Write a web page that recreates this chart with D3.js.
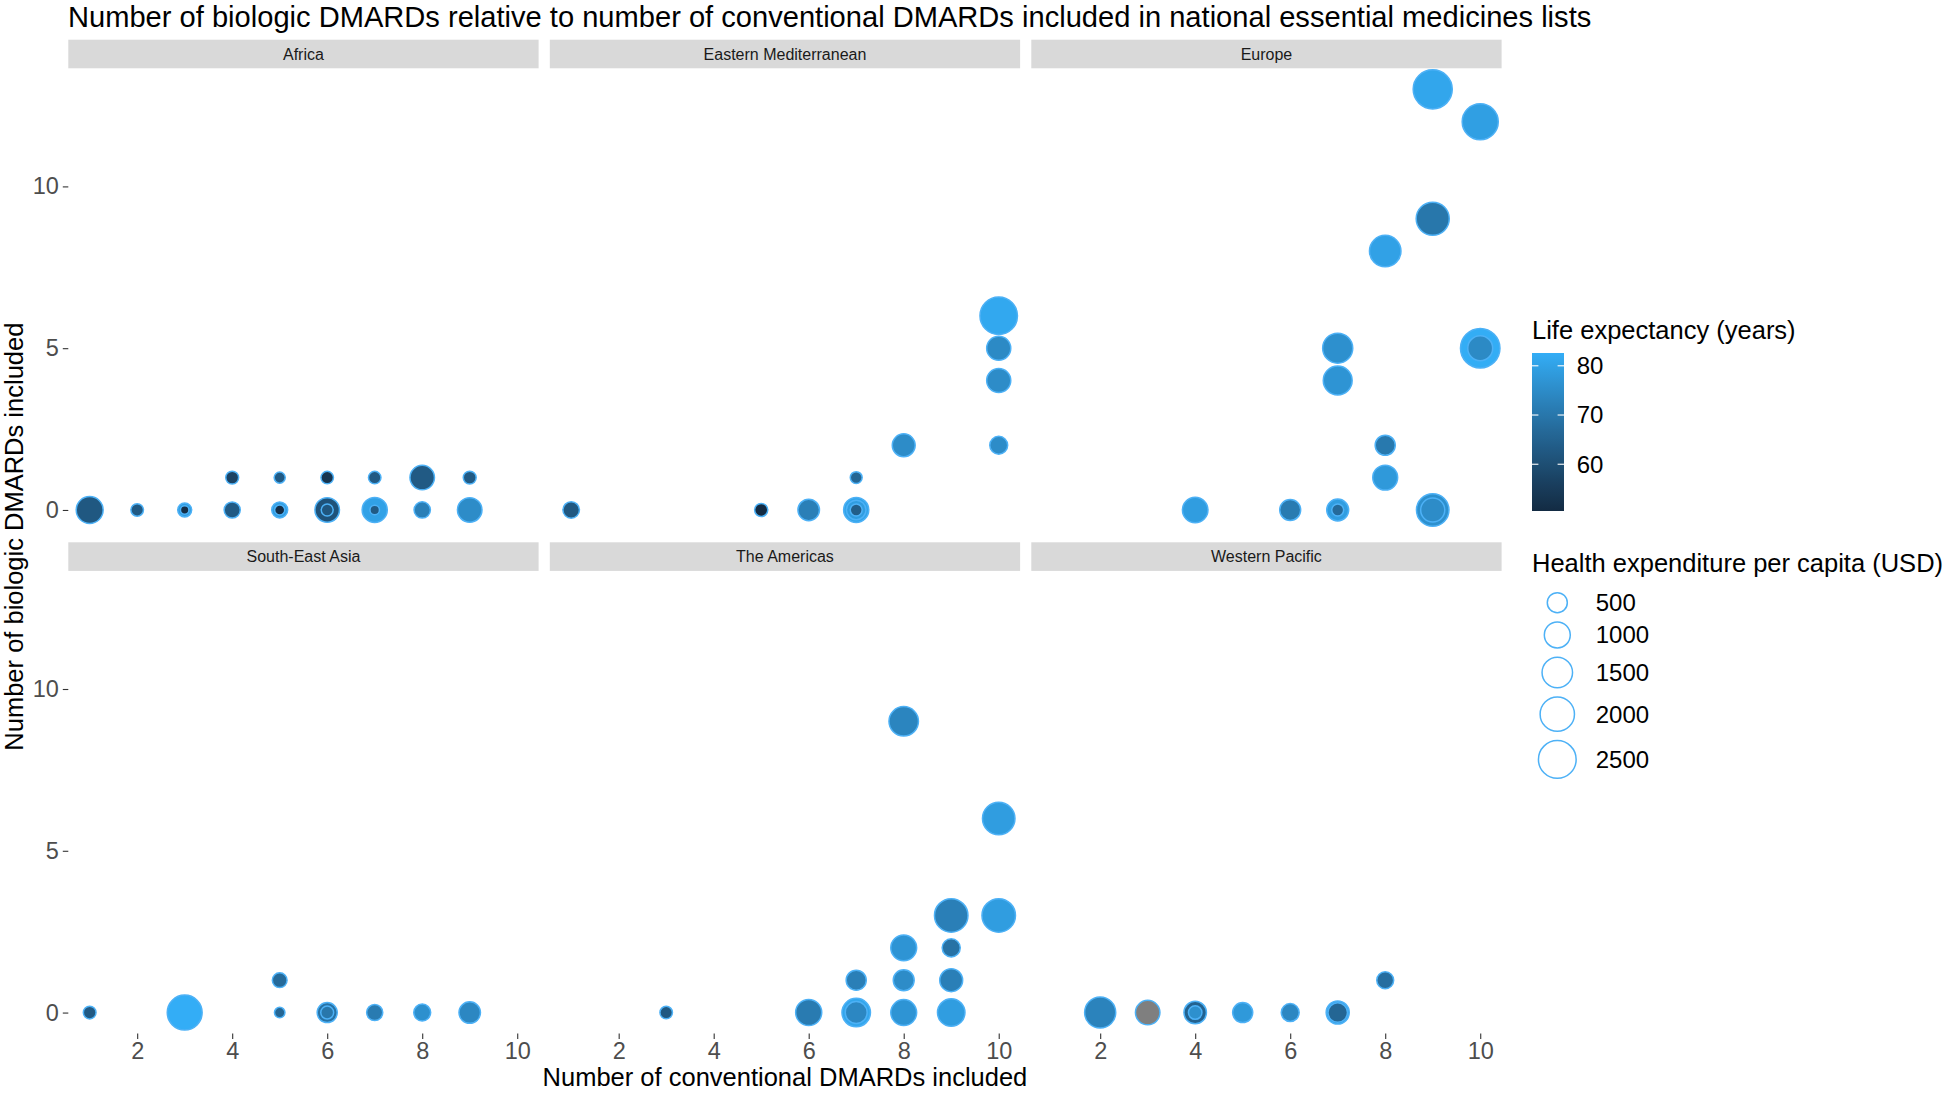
<!DOCTYPE html>
<html><head><meta charset="utf-8">
<script src="https://cdn.jsdelivr.net/npm/d3@7"></script>
<style>
body{margin:0;background:#fff}
svg{display:block}
text{font-family:"Liberation Sans",Arial,Helvetica,sans-serif}
</style>
</head><body>
<svg id="chart" width="1946" height="1093"></svg>
<script>
// ---------- data ----------
const regions = ["Africa","Eastern Mediterranean","Europe","South-East Asia","The Americas","Western Pacific"];
const pointRegion = [
  0,0,0,0,0,0,0,0,0,0,0,0,0,0,0,0,0,0,0,
  1,1,1,1,1,1,1,1,1,1,1,1,
  2,2,2,2,2,2,2,2,2,2,2,2,2,2,2,2,
  3,3,3,3,3,3,3,3,3,
  4,4,4,4,4,4,4,4,4,4,4,4,4,4,4,
  5,5,5,5,5,5,5,5,5
];
const conventional = [
  1,2,3,3,4,5,5,6,6,7,7,8,9,4,5,6,7,8,9,
  1,5,6,7,7,7,7,8,10,10,10,10,
  9,10,9,8,7,7,10,10,8,8,4,6,7,7,9,9,
  1,3,5,5,6,6,7,8,9,
  8,10,9,10,8,9,7,8,9,3,6,7,7,8,9,
  2,3,4,4,5,6,7,7,8
];
const biologic = [
  0,0,0,0,0,0,0,0,0,0,0,0,0,1,1,1,1,1,1,
  0,0,0,0,0,0,1,2,6,5,4,2,
  13,12,9,8,5,4,5,5,2,1,0,0,0,0,0,0,
  0,0,1,0,0,0,0,0,0,
  9,6,3,3,2,2,1,1,1,0,0,0,0,0,0,
  0,0,0,0,0,0,0,0,1
];
const lifeExpectancy = [
  62.5,63,79,51.5,63,79,51.5,61,62,80,63,72,75,57,63,53,63,63,63,
  62.5,50.5,72,80.5,79,64,66,75,81.5,74.5,75,75,
  81,79.5,70,80,76,77,82.5,74.5,70.5,78,79,71,79,67,76,75,
  63,82.6,67,66,69,70,71,76,74,
  73.5,79,72,79,77,69,72,75,72,62.5,71,81,74,77,79,
  73,null,65,76,78,74,80,66,68
];
const healthSpend = [
  1097,113,164,19,264,254,47,863,94,919,35,274,863,127,71,113,113,863,127,
  285,134,609,919,465,94,94,722,2469,827,827,363,
  2723,2256,1833,1625,1453,1314,2789,900,506,900,957,564,641,94,1754,827,
  120,2081,198,56,506,127,264,306,609,
  1383,1754,1887,1887,996,375,506,564,722,113,1016,1269,641,996,1160,
  1575,863,689,149,506,363,739,465,306
];
const xTicks = [2,4,6,8,10];
const yTicks = [0,5,10];
const lifeTicks = [60,70,80];
const spendBreaks = [500,1000,1500,2000,2500];

// ---------- layout ----------
const svg = d3.select("#chart");
const colX = [68.3, 549.8, 1031.3];
const panelW = 470.3;
const stripTop = [39.7, 542.3];
const stripH = 28.6;
const panelH = 462.7;
const fontFam = '"Liberation Sans",Arial,Helvetica,sans-serif';

const x = d3.scaleLinear().domain([0.55, 10.45]).range([0, panelW]);
const y = d3.scaleLinear().domain([-0.65, 13.65]).range([panelH, 0]);
const lifeExtent = d3.extent(lifeExpectancy.filter(v => v != null));
const fill = d3.scaleLinear().domain(lifeExtent).range(["#132B43", "#33ADF6"]).interpolate(d3.interpolateLab);
const r = d3.scaleSqrt().domain([0, 2500]).range([2.85, 18.85]);
const strokeCol = "#4DB1F6";
const strokeW = 1.5;

const points = conventional.map((c, i) => ({
  region: pointRegion[i], x: c, y: biologic[i], life: lifeExpectancy[i], spend: healthSpend[i]
}));

// title
svg.append("text").attr("x", 68).attr("y", 27)
  .attr("font-size", 29.1).attr("fill", "#000")
  .text("Number of biologic DMARDs relative to number of conventional DMARDs included in national essential medicines lists");

regions.forEach((name, ri) => {
  const col = ri % 3, row = Math.floor(ri / 3);
  const gx = colX[col], sy = stripTop[row];
  const py = sy + stripH;
  svg.append("rect").attr("x", gx).attr("y", sy).attr("width", panelW).attr("height", stripH).attr("fill", "#d9d9d9");
  svg.append("text").attr("x", gx + panelW / 2).attr("y", sy + stripH / 2).attr("dy", "0.35em")
    .attr("text-anchor", "middle").attr("font-size", 16).attr("fill", "#1a1a1a").text(name);

  const g = svg.append("g").attr("transform", `translate(${gx},${py})`);
  if (col === 0) {
    const ya = g.append("g").call(d3.axisLeft(y).tickValues(yTicks).tickSize(5.5).tickPadding(4));
    ya.select(".domain").remove();
    ya.selectAll("line").attr("stroke", "#333").attr("stroke-width", 1.1);
    ya.selectAll("text").attr("font-size", 23.5).attr("fill", "#4d4d4d").attr("font-family", fontFam);
  }
  if (row === 1) {
    const xa = g.append("g").attr("transform", `translate(0,${panelH})`)
      .call(d3.axisBottom(x).tickValues(xTicks).tickSize(5.5).tickPadding(3));
    xa.select(".domain").remove();
    xa.selectAll("line").attr("stroke", "#333").attr("stroke-width", 1.1);
    xa.selectAll("text").attr("font-size", 23.5).attr("fill", "#4d4d4d").attr("font-family", fontFam);
  }
  const pts = points.filter(p => p.region === ri).sort((a, b) => b.spend - a.spend);
  g.selectAll("circle.pt").data(pts).join("circle").attr("class", "pt")
    .attr("cx", d => x(d.x)).attr("cy", d => y(d.y)).attr("r", d => r(d.spend))
    .attr("fill", d => d.life == null ? "#7f7f7f" : fill(d.life))
    .attr("stroke", strokeCol).attr("stroke-width", strokeW);
});

// axis titles
svg.append("text").attr("x", (colX[0] + colX[2] + panelW) / 2).attr("y", 1086)
  .attr("text-anchor", "middle").attr("font-size", 25.5).attr("fill", "#000")
  .text("Number of conventional DMARDs included");
svg.append("text").attr("transform", `translate(23,${(stripTop[0] + stripTop[1] + stripH + panelH) / 2}) rotate(-90)`)
  .attr("text-anchor", "middle").attr("font-size", 25.5).attr("fill", "#000")
  .text("Number of biologic DMARDs included");

// ---------- colour legend ----------
const lgX = 1532;
svg.append("text").attr("x", lgX).attr("y", 339).attr("font-size", 25.5).attr("fill", "#000")
  .text("Life expectancy (years)");
const barTop = 353, barBot = 511, barW = 32;
const barY = d3.scaleLinear().domain(lifeExtent).range([barBot, barTop]);
const defs = svg.append("defs");
const grad = defs.append("linearGradient").attr("id", "lifeGrad").attr("x1", 0).attr("y1", 1).attr("x2", 0).attr("y2", 0);
d3.range(0, 1.0001, 0.05).forEach(t => {
  const v = lifeExtent[0] + t * (lifeExtent[1] - lifeExtent[0]);
  grad.append("stop").attr("offset", t).attr("stop-color", fill(v));
});
svg.append("rect").attr("x", lgX).attr("y", barTop).attr("width", barW).attr("height", barBot - barTop).attr("fill", "url(#lifeGrad)");
lifeTicks.forEach(t => {
  const yy = barY(t);
  svg.append("line").attr("x1", lgX).attr("x2", lgX + barW / 5).attr("y1", yy).attr("y2", yy).attr("stroke", "#fff").attr("stroke-width", 1.1);
  svg.append("line").attr("x1", lgX + barW * 4 / 5).attr("x2", lgX + barW).attr("y1", yy).attr("y2", yy).attr("stroke", "#fff").attr("stroke-width", 1.1);
  svg.append("text").attr("x", 1576.7).attr("y", yy).attr("dy", "0.35em").attr("font-size", 24).attr("fill", "#000").text(t);
});

// ---------- size legend ----------
svg.append("text").attr("x", lgX).attr("y", 572).attr("font-size", 25.5).attr("fill", "#000")
  .text("Health expenditure per capita (USD)");
let ky = 588;
spendBreaks.forEach(b => {
  const ro = r(b) + strokeW / 2;
  const h = 2 * ro + 7.8;
  const cy = ky + h / 2;
  svg.append("circle").attr("cx", 1557.3).attr("cy", cy).attr("r", r(b))
    .attr("fill", "none").attr("stroke", strokeCol).attr("stroke-width", strokeW);
  svg.append("text").attr("x", 1595.7).attr("y", cy).attr("dy", "0.35em").attr("font-size", 24).attr("fill", "#000").text(b);
  ky += h;
});
</script>
</body></html>
